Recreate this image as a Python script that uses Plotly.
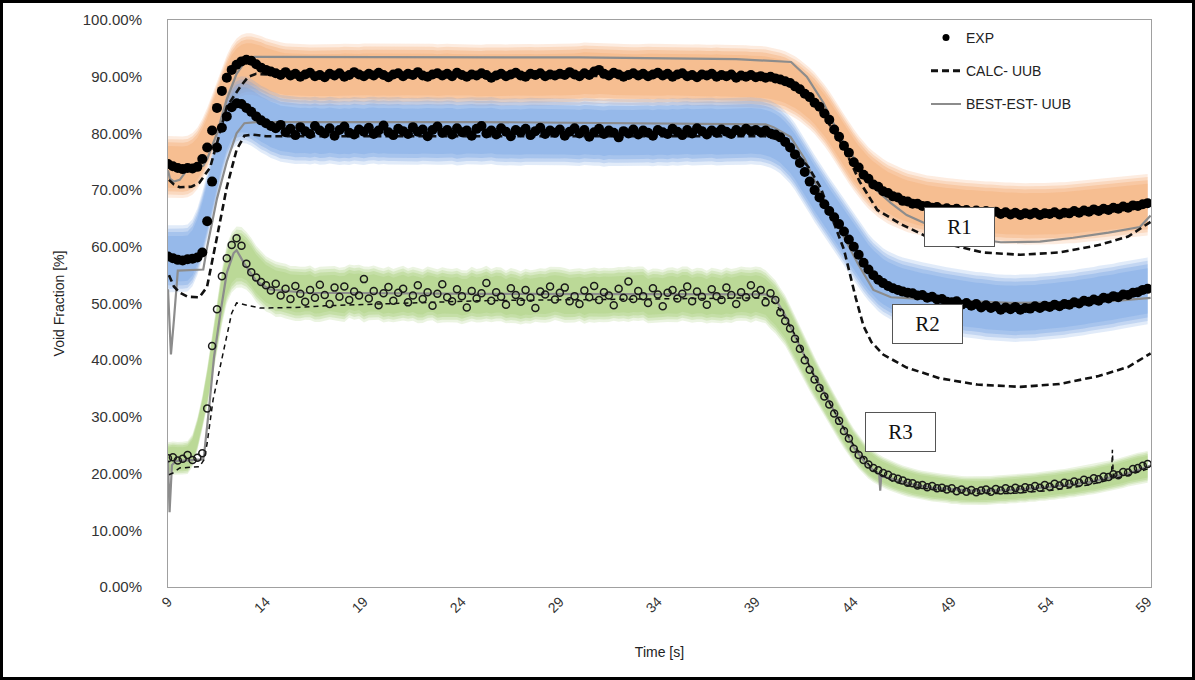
import numpy as np
import pandas as pd
import plotly.graph_objects as go

# ---------------------------------------------------------------------------
# Measured void fraction (EXP), sampled every 0.25 s from t = 9.0 s.
# Each row below covers two seconds (8 samples).
# ---------------------------------------------------------------------------
T0, STEP = 9.0, 0.25

R1_EXP = [
    74.6, 74.2, 73.9, 73.7, 73.9, 73.8, 74.1, 75.5,
    77.5, 80.5, 84.5, 87.5, 89.8, 91.2, 92.1, 92.7,
    93.0, 92.8, 92.2, 91.6, 91.2, 90.9, 90.6, 90.3,
    90.8, 90.2, 90.5, 90.0, 90.4, 90.7, 90.1, 90.3,
    89.9, 90.5, 90.2, 90.6, 90.0, 90.3, 90.8, 90.4,
    90.1, 90.5, 90.2, 90.7, 90.3, 89.9, 90.4, 90.6,
    90.1, 90.5, 90.3, 90.8, 90.2, 90.0, 90.4, 90.6,
    90.2, 90.5, 90.1, 90.7, 90.3, 90.0, 90.4, 90.2,
    90.6, 90.3, 89.8, 90.2, 90.5, 90.1, 90.4, 90.7,
    90.2, 90.0, 90.5, 90.3, 90.6, 90.1, 90.4, 90.2,
    90.5, 90.3, 90.8, 90.4, 90.1, 90.6, 90.3, 90.9,
    91.2, 90.5, 90.2, 90.7, 90.4, 90.0, 90.3, 90.6,
    90.2, 90.5, 90.1, 90.4, 90.7, 90.2, 90.5, 90.0,
    90.4, 90.6, 90.1, 90.3, 89.9, 90.4, 90.2, 90.5,
    90.0, 90.3, 90.1, 90.4, 89.8, 90.2, 90.0, 90.3,
    89.9, 90.1, 89.8, 90.0, 89.7, 89.5, 89.2, 88.9,
    88.3, 87.8, 87.0, 86.4, 85.4, 84.7, 83.5, 82.4,
    80.7, 79.4, 77.8, 76.6, 74.9, 74.0, 72.7, 72.0,
    71.0, 70.6, 69.8, 69.5, 68.9, 68.7, 68.1, 68.0,
    67.6, 67.6, 67.2, 67.2, 66.9, 67.0, 66.6, 66.8,
    66.5, 66.7, 66.3, 66.5, 66.1, 66.4, 66.0, 66.3,
    65.9, 66.2, 65.8, 66.1, 65.7, 66.0, 65.6, 65.9,
    65.7, 66.0, 65.6, 65.9, 65.8, 66.1, 65.7, 66.0,
    65.9, 66.3, 66.0, 66.4, 66.2, 66.6, 66.3, 66.7,
    66.5, 66.9, 66.7, 67.1, 66.9, 67.3, 67.2, 67.5,
    67.7,
]

R2_EXP = [
    58.3, 58.0, 57.7, 57.6, 57.8, 57.9, 58.1, 59.0,
    64.5, 71.5, 77.5, 81.0, 83.0, 84.6, 85.3, 85.2,
    84.5, 83.8, 83.0, 82.3, 81.8, 81.3, 80.9, 81.5,
    80.2, 80.8, 79.7, 81.1, 80.4, 79.9, 81.3, 80.5,
    80.0, 80.9, 79.6, 80.6, 81.2, 80.1, 79.8, 80.7,
    80.3, 81.0, 79.9, 80.5, 81.4, 80.2, 79.7, 80.8,
    80.4, 79.9, 81.1, 80.3, 80.7, 79.5, 80.6, 81.2,
    80.1, 80.6, 79.8, 80.9, 80.2, 80.5, 79.6, 80.8,
    81.3, 80.0, 80.5, 79.8, 80.9, 80.3, 79.5, 80.6,
    80.2, 80.8, 79.7, 80.4, 81.0, 79.9, 80.5, 80.1,
    80.7, 79.6, 80.3, 80.9, 80.0, 80.6, 79.4, 80.2,
    80.8, 79.9, 80.5, 80.1, 79.3, 80.4, 80.0, 80.7,
    79.8, 80.5, 80.1, 79.6, 80.6, 80.2, 79.9, 80.8,
    80.3, 79.7, 80.6, 80.0, 80.9, 80.4, 79.8, 80.5,
    80.1, 80.7, 80.3, 79.9, 80.6, 80.2, 80.8, 80.4,
    80.6, 80.2, 80.5, 80.0, 79.8, 79.3, 78.5, 77.5,
    76.3, 74.8, 73.2, 71.5, 70.0, 68.7, 67.5, 66.3,
    65.2, 64.0, 62.7, 61.3, 60.0, 58.6, 57.2, 56.0,
    55.0, 54.2, 53.6, 53.1, 52.7, 52.4, 52.1, 51.9,
    51.8, 51.4, 51.5, 51.0, 51.2, 50.7, 50.8, 50.3,
    50.2, 50.4, 49.8, 50.1, 49.6, 49.9, 49.3, 49.7,
    49.2, 49.5, 48.9, 49.3, 49.0, 49.4, 48.9, 49.2,
    49.1, 49.5, 49.2, 49.6, 49.4, 49.8, 49.5, 49.9,
    49.8, 50.2, 50.0, 50.5, 50.3, 50.7, 50.5, 51.0,
    50.9, 51.3, 51.1, 51.6, 51.5, 51.9, 52.0, 52.4,
    52.6,
]

R3_EXP = [
    22.7, 22.9, 22.3, 22.6, 23.3, 22.4, 22.8, 23.6,
    31.5, 42.5, 49.0, 54.8, 58.0, 60.3, 61.5, 60.2,
    57.0, 55.5, 54.6, 53.8, 53.2, 52.3, 53.5, 51.4,
    52.6, 50.8, 53.1, 51.7, 50.3, 52.4, 51.0, 53.3,
    51.5, 49.9, 52.8, 51.2, 53.0, 50.6, 52.1, 51.4,
    54.3, 50.9, 52.2, 49.7, 51.8, 52.9, 50.5, 51.9,
    52.6, 50.2, 51.4, 53.2, 50.8, 52.0, 49.6, 51.7,
    53.4, 51.1, 50.4, 52.5, 51.3, 49.3, 52.2, 50.9,
    51.8, 53.6, 50.5, 52.0, 51.2, 49.8, 52.7, 51.5,
    50.3, 52.4, 51.0, 49.2, 52.1, 51.6, 53.0, 50.7,
    51.9, 52.8, 50.4, 51.3, 49.9, 52.3, 51.1, 53.1,
    50.6, 52.0, 51.4, 49.7, 52.6, 51.0, 53.9, 50.8,
    52.2, 51.3, 50.1, 52.7, 51.6, 49.5, 51.9, 52.4,
    50.9, 51.7, 53.0, 50.4, 52.1, 51.2, 49.8, 52.5,
    51.3, 50.6, 52.8, 51.5, 49.9, 52.0, 51.1, 53.2,
    51.6, 52.4, 50.2, 51.8, 50.6, 48.4, 46.9, 45.6,
    43.8, 42.0, 40.0, 38.3, 36.6, 35.1, 33.6, 32.2,
    30.6, 29.3, 27.5, 26.2, 24.4, 23.3, 22.4, 21.6,
    21.0, 20.6, 20.1, 19.8, 19.3, 19.1, 18.8, 18.4,
    18.3, 17.9, 18.0, 17.6, 17.8, 17.4, 17.5, 17.2,
    17.4, 16.9, 17.2, 16.8, 17.1, 16.7, 17.0, 17.2,
    16.8, 17.3, 17.0, 17.4, 17.1, 17.5, 17.2, 17.6,
    17.4, 17.8, 17.5, 18.0, 17.7, 18.2, 17.9, 18.4,
    18.2, 18.6, 18.4, 18.9, 18.7, 19.2, 19.0, 19.5,
    19.4, 19.9, 19.7, 20.3, 20.2, 20.8, 21.0, 21.4,
    21.7,
]

# Half-width of the measurement uncertainty band [% void]
R1_UNC = 4.6
R2_UNC = 5.0
R3_UNC_BASE, R3_UNC_REL = 1.2, 0.055

# ---------------------------------------------------------------------------
# Code predictions with upper uncertainty bound
# ---------------------------------------------------------------------------
CALC_R1_T = [9.05, 9.3, 9.6, 10.2, 10.6, 11.15, 11.6, 12.0, 12.68, 13.1, 13.5, 14.5,
             25.0, 39.5, 40.5, 41.5, 42.5, 43.5, 44.3, 45.2, 46.4, 47.6, 49.0, 50.6,
             52.5, 54.5, 56.5, 58.0, 59.15]
CALC_R1_V = [71.8, 71.0, 70.5, 70.6, 71.3, 74.0, 79.5, 84.7, 88.2, 90.0, 90.5, 90.3,
             90.2, 90.0, 89.3, 87.0, 83.0, 77.5, 71.5, 66.5, 64.0, 62.0, 60.3, 59.0,
             58.6, 59.0, 60.3, 61.8, 64.4]

CALC_R2_T = [9.05, 9.3, 9.6, 10.0, 10.6, 10.99, 11.5, 12.0, 12.5, 12.9, 13.3, 14.0,
             25.0, 39.5, 40.3, 41.0, 41.7, 42.3, 42.9, 43.5, 44.1, 44.5, 44.9, 45.5,
             46.7, 48.4, 50.3, 52.5, 54.5, 56.5, 58.0, 59.15]
CALC_R2_V = [55.0, 53.0, 51.9, 51.2, 51.1, 52.9, 61.7, 70.5, 77.1, 79.6, 79.8, 79.5,
             79.5, 79.5, 78.8, 76.8, 74.0, 70.5, 65.0, 59.5, 51.0, 46.0, 43.2, 41.0,
             38.7, 36.8, 35.7, 35.3, 35.8, 37.2, 38.8, 41.2]

CALC_R3_T = [9.05, 9.25, 9.6, 10.6, 10.85, 11.0, 11.3, 11.65, 12.0, 12.25, 12.5, 13.0,
             13.7, 15.5, 17.0, 25.0, 39.5, 40.0, 40.5, 41.0, 42.0, 43.0, 44.0, 45.0,
             46.0, 47.0, 48.0, 50.0, 52.0, 54.0, 56.0, 57.15, 57.2, 57.25, 58.0, 59.15]
CALC_R3_V = [19.8, 20.1, 21.0, 21.2, 22.5, 25.4, 33.0, 38.8, 44.1, 48.3, 50.1, 49.7,
             49.2, 49.3, 49.6, 50.5, 51.0, 50.0, 47.5, 44.5, 37.0, 31.0, 25.0, 20.6,
             18.6, 17.7, 17.2, 16.5, 16.5, 17.0, 18.0, 19.0, 24.2, 19.1, 19.7, 21.0]

BEST_R1_T = [9.0, 9.1, 9.3, 9.6, 9.9, 10.2, 10.8, 11.0, 11.5, 12.0, 12.5, 13.0, 13.4,
             20.0, 30.0, 38.0, 40.8, 41.6, 42.45, 43.3, 44.2, 45.0, 45.9, 46.7, 47.6,
             48.8, 50.0, 51.5, 53.5, 55.2, 57.0, 58.6, 59.15]
BEST_R1_V = [73.5, 72.0, 71.5, 71.8, 73.2, 74.2, 74.3, 75.5, 80.0, 86.0, 90.5, 93.0, 93.5,
             93.5, 93.4, 93.1, 92.6, 90.0, 85.4, 79.4, 74.8, 70.5, 67.7, 65.6, 64.2,
             62.6, 61.5, 60.8, 60.9, 61.6, 62.5, 63.5, 65.5]

BEST_R2_T = [9.0, 9.08, 9.15, 9.3, 9.5, 10.8, 11.0, 11.5, 12.0, 12.5, 12.9, 13.5, 25.0,
             39.5, 39.9, 40.77, 41.5, 42.15, 43.3, 44.2, 45.0, 45.9, 47.0, 49.0, 52.0,
             55.0, 57.5, 59.15]
BEST_R2_V = [52.5, 46.0, 41.0, 47.0, 55.8, 56.0, 60.0, 68.5, 75.0, 80.0, 81.8, 82.0, 82.0,
             81.6, 81.1, 79.4, 75.5, 70.5, 63.0, 57.1, 52.4, 51.1, 50.9, 50.5, 50.1,
             50.2, 50.5, 51.0]

BEST_R3_T = [9.0, 9.08, 9.2, 9.4, 10.8, 10.85, 11.1, 11.35, 11.7, 12.0, 12.35, 12.5, 12.9,
             13.5, 14.2, 16.0, 25.0, 35.0, 39.5, 40.0, 40.5, 41.0, 41.5, 42.0, 42.5, 43.0,
             43.5, 44.0, 44.5, 45.0, 45.3, 45.35, 45.4, 46.0, 47.0, 48.0, 50.0, 52.0,
             54.0, 56.0, 58.0, 59.15]
BEST_R3_V = [22.4, 13.2, 21.5, 22.2, 22.5, 23.6, 31.7, 40.6, 48.9, 55.4, 58.9, 59.4, 57.0,
             54.0, 52.5, 51.9, 51.7, 51.6, 51.6, 50.8, 47.9, 44.2, 40.6, 37.2, 34.2, 31.0,
             27.6, 24.6, 22.3, 20.6, 19.9, 17.0, 19.6, 19.0, 18.1, 17.5, 17.0, 17.1,
             17.6, 18.5, 20.0, 21.4]

X_TICKS = [9, 14, 19, 24, 29, 34, 39, 44, 49, 54, 59]
Y_TICKS = [0, 10, 20, 30, 40, 50, 60, 70, 80, 90, 100]

REGION_LABELS = [("R1", 49.42, 63.5), ("R2", 47.74, 46.3), ("R3", 46.41, 27.25)]

# ---------------------------------------------------------------------------
W, H = 1195, 680
ML, MR, MT, MB = 168, 44, 20, 93
PW, PH = W - ML - MR, H - MT - MB

CALC_COLOR = "#111111"
BEST_COLOR = "#8c8c8c"
TICK_FONT = "Liberation Sans, Arial, sans-serif"

t_exp = T0 + STEP * np.arange(len(R1_EXP))

fig = go.Figure()


def add_band(values, half_width, rgb):
    """Soft-edged uncertainty band drawn as stacked translucent layers."""
    centre = pd.Series(values).rolling(7, center=True, min_periods=1).mean().to_numpy()
    hw = np.asarray(half_width, dtype=float) * np.ones_like(centre)
    for scale, alpha in [(1.18, 0.22), (1.06, 0.28), (0.94, 0.36), (0.8, 0.34)]:
        up = centre + hw * scale
        lo = centre - hw * scale
        fig.add_trace(go.Scatter(
            x=np.concatenate([t_exp, t_exp[::-1]]),
            y=np.concatenate([up, lo[::-1]]),
            fill="toself", mode="lines", line=dict(width=0),
            fillcolor=f"rgba({rgb},{alpha})", hoverinfo="skip", showlegend=False,
        ))


add_band(R1_EXP, R1_UNC, "244,170,112")
add_band(R2_EXP, R2_UNC, "118,163,228")
add_band(R3_EXP, R3_UNC_BASE + R3_UNC_REL * np.asarray(R3_EXP), "166,204,120")

# Best-estimate calculations (grey solid)
for tt, vv in [(BEST_R1_T, BEST_R1_V), (BEST_R2_T, BEST_R2_V), (BEST_R3_T, BEST_R3_V)]:
    fig.add_trace(go.Scatter(
        x=tt, y=vv, mode="lines", line=dict(color=BEST_COLOR, width=2.2),
        showlegend=False,
    ))

# Conservative calculations (black dashed)
for tt, vv, w, dash in [(CALC_R1_T, CALC_R1_V, 2.6, "7px,4px"),
                        (CALC_R2_T, CALC_R2_V, 2.6, "7px,4px"),
                        (CALC_R3_T, CALC_R3_V, 1.5, "5px,4px")]:
    fig.add_trace(go.Scatter(
        x=tt, y=vv, mode="lines", line=dict(color=CALC_COLOR, width=w, dash=dash),
        showlegend=False,
    ))

# Measurements
for vals in (R1_EXP, R2_EXP):
    fig.add_trace(go.Scatter(
        x=t_exp, y=vals, mode="markers",
        marker=dict(color="black", size=10, line=dict(width=0)),
        showlegend=False,
    ))
fig.add_trace(go.Scatter(
    x=t_exp, y=R3_EXP, mode="markers",
    marker=dict(symbol="circle-open", color="#1a1a1a", size=7, line=dict(width=1.5)),
    showlegend=False,
))

# Legend keys (legend-only entries carrying the key styles)
fig.add_trace(go.Scatter(x=[None], y=[None], mode="markers", name="EXP",
                         marker=dict(color="black", size=7), legendgroup="a"))
fig.add_trace(go.Scatter(x=[None], y=[None], mode="lines", name="CALC- UUB",
                         line=dict(color=CALC_COLOR, width=3, dash="7px,4px"),
                         legendgroup="b"))
fig.add_trace(go.Scatter(x=[None], y=[None], mode="lines", name="BEST-EST- UUB",
                         line=dict(color=BEST_COLOR, width=2), legendgroup="c"))

# Region labels
for text, tx, ty in REGION_LABELS:
    fig.add_annotation(
        x=tx, y=ty, xref="x", yref="y", text=text, showarrow=False,
        font=dict(family="Liberation Serif, Times New Roman, serif", size=21, color="#111"),
        bgcolor="white", bordercolor="#555", borderwidth=1, width=67, height=36,
    )

# Outer frame around the whole figure
fig.add_shape(
    type="rect", xref="paper", yref="paper",
    x0=-(ML - 1.5) / PW, x1=1 + (MR - 1.5) / PW,
    y0=-(MB - 1.5) / PH, y1=1 + (MT - 1.5) / PH,
    line=dict(color="black", width=3), layer="above",
)

fig.update_layout(
    width=W, height=H,
    margin=dict(l=ML, r=MR, t=MT, b=MB, autoexpand=False),
    paper_bgcolor="white", plot_bgcolor="white",
    showlegend=True,
    legend=dict(
        x=(926 - ML) / PW, y=1 - (22 - MT) / PH, xanchor="left", yanchor="top",
        bgcolor="rgba(0,0,0,0)", tracegroupgap=12, traceorder="grouped",
        font=dict(family=TICK_FONT, size=14, color="#222"),
    ),
    xaxis=dict(
        range=[9, 59.17], tickvals=X_TICKS, ticktext=[str(v) for v in X_TICKS],
        tickangle=-45, showgrid=False, zeroline=False,
        showline=True, linecolor="#a0a0a0", linewidth=1, mirror=True, ticks="",
        tickfont=dict(family=TICK_FONT, size=14, color="#333"),
        title=dict(text="Time [s]", standoff=32,
                   font=dict(family=TICK_FONT, size=14, color="#222")),
    ),
    yaxis=dict(
        range=[0, 100], tickvals=Y_TICKS, ticktext=[f"{v:.2f}%" for v in Y_TICKS],
        showgrid=False, zeroline=False,
        showline=True, linecolor="#a0a0a0", linewidth=1, mirror=True, ticks="",
        ticklabelstandoff=22,
        tickfont=dict(family=TICK_FONT, size=15, color="#333"),
        title=dict(text="Void Fraction [%]", standoff=14,
                   font=dict(family="Liberation Sans Narrow, Arial Narrow, Liberation Sans",
                             size=14, color="#222")),
    ),
)

fig.write_html("out.html")
